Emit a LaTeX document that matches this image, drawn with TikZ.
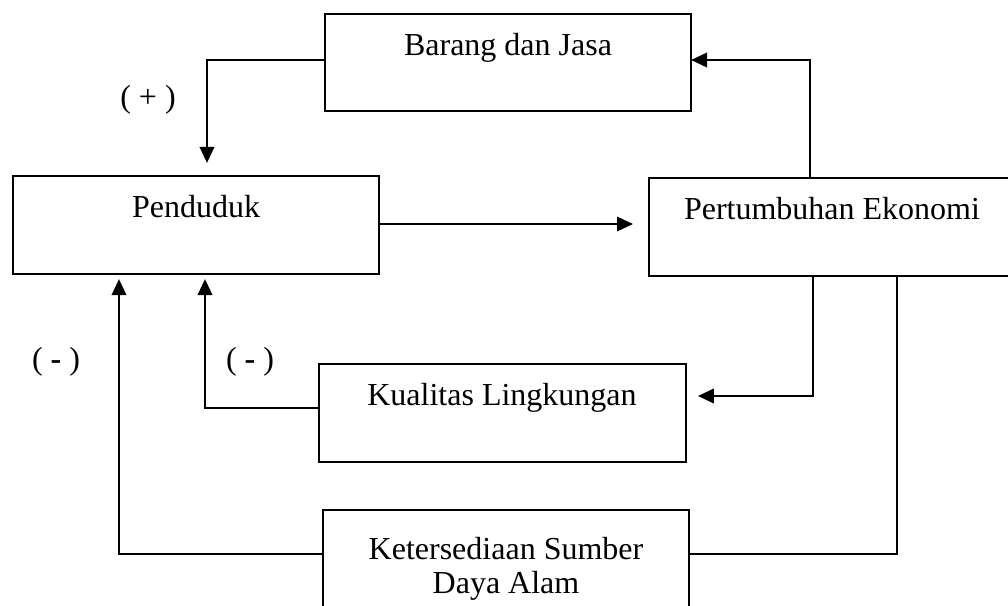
\documentclass[tikz,border=0pt]{standalone}
\usepackage{fontspec}
\setmainfont{Liberation Serif}
\usetikzlibrary{arrows.meta}
\begin{document}
\begin{tikzpicture}[x=0.375pt,y=-0.375pt,
  box/.style={draw, line width=0.9pt, anchor=north west, inner sep=0pt, outer sep=0pt,
    minimum width=137.25pt, minimum height=36.75pt},
  lbl/.style={font=\fontsize{12}{12.75}\selectfont, anchor=base, inner sep=0pt, align=center},
  ln/.style={line width=0.9pt},
  arr/.style={line width=0.9pt, -{Triangle[length=6pt,width=5.4pt]}}]
\useasboundingbox (0,0) rectangle (1008,605);
\clip (0,0) rectangle (1008,605);
% boxes
\node[box, minimum height=36.4pt] (barang) at (325,14) {};
\node[box] (pend) at (13,176) {};
\node[box] (pert) at (649,178) {};
\node[box, minimum width=137.6pt] (kual) at (319,364) {};
\node[box] (kete) at (323,510) {};
% texts
\node[lbl] (barang-t) at (508,55) {Barang dan Jasa};
\node[lbl] (pend-t) at (196,217) {Penduduk};
\node[lbl] (pert-t) at (832,219) {Pertumbuhan Ekonomi};
\node[lbl] (kual-t) at (502,405) {Kualitas Lingkungan};
\node[lbl] (kete-t) at (506,593) {Ketersediaan Sumber\\Daya Alam};
% signs
\node[lbl] (plus) at (148,107) {( + )};
\node[lbl] (minA) at (56,369) {( \textbf{-} )};
\node[lbl] (minB) at (250,369) {( \textbf{-} )};
% connectors
\draw[arr, shorten >=4.9pt] (barang.west |- 0,60) -| (pend.north -| 207,0);
\draw[arr] (pert.north -| 810,0) |- (barang.east |- 0,60);
\draw[arr, shorten >=6pt] (pend.east |- 0,224) -- (pert.west |- 0,224);
\draw[arr, shorten >=4.5pt] (pert.south -| 813,0) |- (kual.east |- 0,396);
\draw[ln] (pert.south -| 897,0) |- (kete.east |- 0,554);
\draw[arr, shorten >=1.9pt] (kual.west |- 0,408) -| (pend.south -| 205,0);
\draw[arr, shorten >=1.9pt] (kete.west |- 0,554) -| (pend.south -| 119,0);
\end{tikzpicture}
\end{document}
